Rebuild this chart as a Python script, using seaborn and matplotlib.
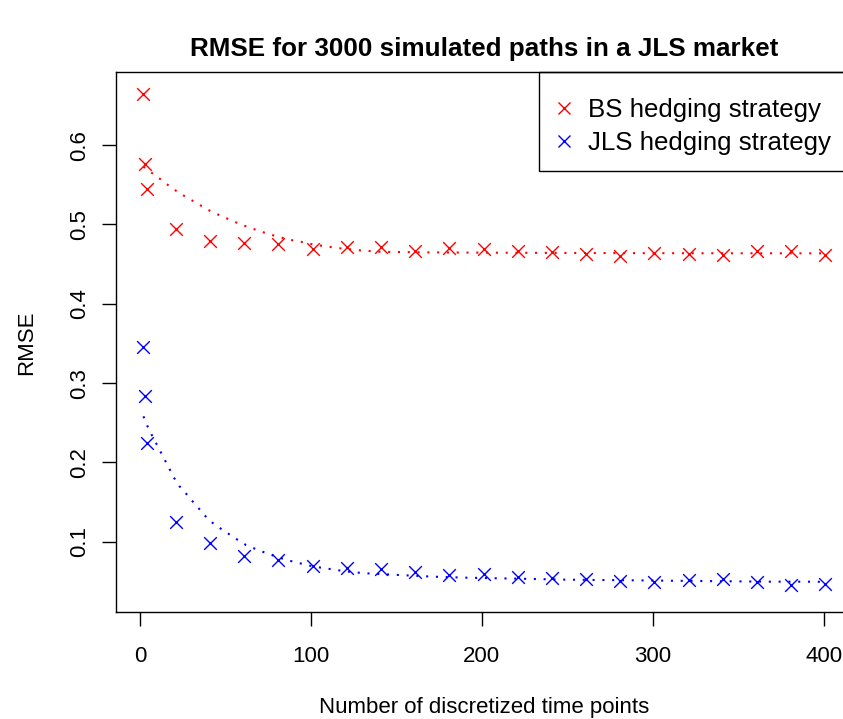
import matplotlib
matplotlib.use("Agg")
import matplotlib.pyplot as plt
from matplotlib.lines import Line2D
from matplotlib.patches import Rectangle
import seaborn as sns

# ---- data ----
time_points = [2, 3, 4, 21, 41, 61, 81, 101, 121, 141, 161, 181, 201, 221,
               241, 261, 281, 301, 321, 341, 361, 381, 401]
bs_rmse = [0.6646, 0.5759, 0.5444, 0.4947, 0.4788, 0.4763, 0.4754, 0.4695,
           0.4712, 0.4720, 0.4666, 0.4700, 0.4687, 0.4666, 0.4649, 0.4632,
           0.4603, 0.4637, 0.4632, 0.4612, 0.4666, 0.4666, 0.4619]
jls_rmse = [0.3459, 0.2841, 0.2248, 0.1245, 0.0987, 0.0816, 0.0765, 0.0690,
            0.0665, 0.0652, 0.0614, 0.0584, 0.0596, 0.0555, 0.0546, 0.0533,
            0.0508, 0.0496, 0.0513, 0.0530, 0.0496, 0.0454, 0.0470]

bs_fit_x = [2, 7.2, 12.3, 17.6, 23.0, 28.7, 34.3, 40.0, 45.8, 51.9, 57.9, 64.2,
            70.4, 76.6, 82.9, 89.3, 95.6, 102.0, 108.7, 115.1, 128.1, 141, 170,
            200, 250, 300, 350, 401]
bs_fit_y = [0.5730, 0.5646, 0.5565, 0.5477, 0.5397, 0.5325, 0.5255, 0.5183,
            0.5124, 0.5066, 0.5010, 0.4960, 0.4914, 0.4871, 0.4834, 0.4801,
            0.4776, 0.4745, 0.4725, 0.4704, 0.4675, 0.4655, 0.4648, 0.4645,
            0.4641, 0.4638, 0.4637, 0.4636]

jls_fit_x = [2, 4.5, 7.4, 10.5, 13.5, 16.6, 19.5, 23.0, 27.3, 31.6, 35.9, 40.2,
             45.5, 50.9, 56.4, 62.0, 68.1, 74.1, 80.4, 86.6, 93.0, 99.5, 105.9,
             112.3, 118.8, 125.4, 131.8, 151.7, 171.3, 191.2, 210.7, 230.2,
             250.1, 269.6, 289.1, 309.2, 328.7, 348.6, 368.3, 388.1, 401]
jls_fit_y = [0.2581, 0.2450, 0.2324, 0.2198, 0.2072, 0.1946, 0.1820, 0.1702,
             0.1598, 0.1488, 0.1383, 0.1274, 0.1189, 0.1113, 0.1034, 0.0958,
             0.0904, 0.0854, 0.0807, 0.0765, 0.0731, 0.0697, 0.0672, 0.0652,
             0.0631, 0.0614, 0.0602, 0.0580, 0.0559, 0.0546, 0.0538, 0.0530,
             0.0521, 0.0517, 0.0513, 0.0508, 0.0504, 0.0500, 0.0496, 0.0496,
             0.0494]

x_ticks = [0, 100, 200, 300, 400]
y_ticks = [0.1, 0.2, 0.3, 0.4, 0.5, 0.6]
y_tick_labels = ["0.1", "0.2", "0.3", "0.4", "0.5", "0.6"]
series_names = ["BS hedging strategy", "JLS hedging strategy"]
series_colors = ["#FF0000", "#0000FF"]

title = "RMSE for 3000 simulated paths in a JLS market"
x_label = "Number of discretized time points"
y_label = "RMSE"

# ---- style ----
sns.set_theme(style="white")
plt.rcParams["font.family"] = ["Liberation Sans", "DejaVu Sans"]
plt.rcParams["text.color"] = "black"
plt.rcParams["axes.labelcolor"] = "black"
plt.rcParams["xtick.color"] = "black"
plt.rcParams["ytick.color"] = "black"

W, H = 843, 719
fig = plt.figure(figsize=(W / 100, H / 100), dpi=100)
ax_left, ax_right, ax_top, ax_bottom = 116.0, 852.6, 72.3, 611.7
ax_w, ax_h = ax_right - ax_left, ax_bottom - ax_top
ax = fig.add_axes([ax_left / W, 1 - ax_bottom / H, ax_w / W, ax_h / H])

dot_style = (0, (1, 3.7))
sns.lineplot(x=bs_fit_x, y=bs_fit_y, ax=ax, color=series_colors[0], lw=1.5,
             linestyle=dot_style, sort=False, estimator=None)
sns.lineplot(x=jls_fit_x, y=jls_fit_y, ax=ax, color=series_colors[1], lw=1.5,
             linestyle=dot_style, sort=False, estimator=None)
sns.scatterplot(x=time_points, y=bs_rmse, ax=ax, marker="x",
                color=series_colors[0], s=83, linewidth=1.0)
sns.scatterplot(x=time_points, y=jls_rmse, ax=ax, marker="x",
                color=series_colors[1], s=83, linewidth=1.0)

ax.set_xlim(-14.04, 416.97)
ax.set_ylim(0.01173, 0.6919)
ax.set_xticks(x_ticks)
ax.set_xticklabels([str(t) for t in x_ticks])
ax.set_yticks(y_ticks)
ax.set_yticklabels(y_tick_labels, rotation=90, va="center")
ax.tick_params(axis="both", direction="out", length=9.9, width=1.0,
               color="black", labelsize=16, labelcolor="black")
ax.tick_params(axis="x", pad=14.5, bottom=True)
ax.tick_params(axis="y", pad=9.0, left=True)
for sp in ax.spines.values():
    sp.set_color("black")
    sp.set_linewidth(1.0)
ax.set_xlabel("")
ax.set_ylabel("")
ax.grid(False)

# legend (frame drawn separately)
leg_left, leg_top, leg_bottom = 539.3, 72.3, 171.0
handles = [Line2D([], [], ls="none", marker="x", color=c, ms=9.1, mew=1.0)
           for c in series_colors]
leg = ax.legend(handles, series_names, loc="upper left",
                bbox_to_anchor=((leg_left - 7.7 - ax_left) / ax_w, 1.0),
                borderaxespad=0, frameon=False, fontsize=18.6,
                borderpad=0.99, labelspacing=0.34,
                handlelength=0.53, handletextpad=0.65)
ax.add_patch(Rectangle(((leg_left - ax_left) / ax_w, (ax_bottom - leg_bottom) / ax_h),
                       (ax_right - leg_left) / ax_w, (leg_bottom - leg_top) / ax_h,
                       transform=ax.transAxes, fill=False, edgecolor="black",
                       linewidth=1.0, clip_on=False, zorder=5))

cx = (ax_left + ax_right) / 2 / W
fig.text(cx, 1 - 56.3 / H, title, ha="center", va="baseline",
         fontsize=18.7, fontweight="bold", color="black")
fig.text(cx, 1 - 713.3 / H, x_label, ha="center", va="baseline", fontsize=16,
         color="black")
fig.text(31.7 / W, 1 - 343 / H, y_label, ha="center", va="baseline",
         rotation=90, rotation_mode="anchor", fontsize=16, color="black")

fig.savefig("out.png", dpi=100)
